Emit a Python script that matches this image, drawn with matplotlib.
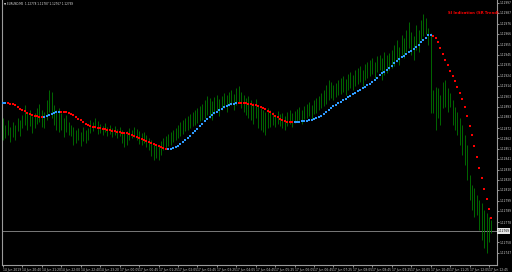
import numpy as np
import matplotlib
matplotlib.use("Agg")
import matplotlib.pyplot as plt

# ---- data (EURUSD, M5 bars) ----
high = [1.12882,1.12875,1.12880,1.12873,1.12878,1.12875,1.12882,1.12880,1.12885,1.12895,
        1.12888,1.12890,1.12884,1.12887,1.12892,1.12896,1.12890,1.12888,1.12900,1.12910,
        1.12908,1.12895,1.12890,1.12892,1.12887,1.12882,1.12885,1.12878,1.12875,1.12873,
        1.12870,1.12872,1.12868,1.12873,1.12870,1.12872,1.12880,1.12878,1.12882,1.12879,
        1.12876,1.12874,1.12877,1.12873,1.12875,1.12872,1.12874,1.12871,1.12873,1.12870,
        1.12867,1.12869,1.12872,1.12870,1.12873,1.12871,1.12869,1.12867,1.12868,1.12865,
        1.12862,1.12860,1.12857,1.12855,1.12854,1.12859,1.12862,1.12864,1.12866,1.12868,
        1.12870,1.12872,1.12875,1.12878,1.12880,1.12882,1.12884,1.12886,1.12888,1.12890,
        1.12892,1.12894,1.12896,1.12900,1.12904,1.12902,1.12899,1.12903,1.12905,1.12901,
        1.12904,1.12907,1.12905,1.12908,1.12910,1.12906,1.12912,1.12914,1.12908,1.12905,
        1.12902,1.12904,1.12900,1.12897,1.12901,1.12895,1.12892,1.12890,1.12888,1.12892,
        1.12890,1.12888,1.12885,1.12889,1.12886,1.12887,1.12884,1.12888,1.12890,1.12887,
        1.12889,1.12891,1.12893,1.12890,1.12894,1.12896,1.12898,1.12895,1.12900,1.12902,
        1.12904,1.12907,1.12910,1.12915,1.12920,1.12918,1.12915,1.12917,1.12920,1.12922,
        1.12924,1.12921,1.12926,1.12928,1.12925,1.12930,1.12932,1.12934,1.12930,1.12936,
        1.12938,1.12940,1.12942,1.12938,1.12944,1.12945,1.12942,1.12948,1.12945,1.12947,
        1.12950,1.12955,1.12960,1.12953,1.12965,1.12962,1.12970,1.12978,1.12968,1.12964,
        1.12975,1.12970,1.12980,1.12986,1.12982,1.12972,1.12967,1.12910,1.12913,1.12912,
        1.12905,1.12918,1.12920,1.12912,1.12907,1.12900,1.12893,1.12888,1.12882,1.12875,
        1.12865,1.12855,1.12825,1.12815,1.12812,1.12805,1.12800,1.12797,1.12790,1.12787,
        1.12783,1.12780]
low = [1.12860,1.12862,1.12865,1.12858,1.12863,1.12860,1.12869,1.12864,1.12872,1.12875,
       1.12870,1.12874,1.12867,1.12872,1.12876,1.12878,1.12873,1.12872,1.12880,1.12888,
       1.12882,1.12875,1.12870,1.12868,1.12870,1.12863,1.12868,1.12865,1.12864,1.12855,
       1.12857,1.12860,1.12854,1.12859,1.12857,1.12860,1.12867,1.12869,1.12872,1.12866,
       1.12867,1.12865,1.12868,1.12864,1.12866,1.12863,1.12865,1.12862,1.12864,1.12857,
       1.12853,1.12855,1.12860,1.12862,1.12863,1.12860,1.12856,1.12855,1.12857,1.12853,
       1.12850,1.12844,1.12840,1.12842,1.12840,1.12845,1.12850,1.12852,1.12854,1.12855,
       1.12858,1.12860,1.12862,1.12864,1.12866,1.12869,1.12870,1.12872,1.12874,1.12875,
       1.12877,1.12879,1.12880,1.12882,1.12885,1.12882,1.12880,1.12886,1.12888,1.12884,
       1.12890,1.12892,1.12888,1.12894,1.12895,1.12890,1.12895,1.12898,1.12892,1.12888,
       1.12885,1.12882,1.12880,1.12876,1.12882,1.12872,1.12870,1.12868,1.12865,1.12872,
       1.12873,1.12875,1.12873,1.12876,1.12874,1.12872,1.12870,1.12874,1.12876,1.12873,
       1.12877,1.12878,1.12880,1.12876,1.12881,1.12882,1.12884,1.12880,1.12886,1.12887,
       1.12890,1.12892,1.12894,1.12896,1.12900,1.12902,1.12900,1.12903,1.12905,1.12906,
       1.12908,1.12905,1.12910,1.12912,1.12910,1.12914,1.12916,1.12918,1.12914,1.12920,
       1.12922,1.12924,1.12926,1.12922,1.12928,1.12930,1.12920,1.12925,1.12927,1.12930,
       1.12932,1.12934,1.12938,1.12935,1.12945,1.12942,1.12948,1.12952,1.12945,1.12940,
       1.12950,1.12948,1.12960,1.12964,1.12966,1.12955,1.12887,1.12887,1.12870,1.12882,
       1.12875,1.12892,1.12893,1.12888,1.12893,1.12875,1.12870,1.12865,1.12855,1.12845,
       1.12835,1.12820,1.12800,1.12790,1.12783,1.12785,1.12770,1.12760,1.12752,1.12747,
       1.12758,1.12767]
trend_line = [1.12897,1.12897,1.12897,1.12896,1.12896,1.12895,1.12893,1.12891,1.12890,1.12889,
              1.12887,1.12886,1.12885,1.12884,1.12884,1.12883,1.12883,1.12883,1.12884,1.12885,
              1.12886,1.12887,1.12888,1.12888,1.12888,1.12888,1.12888,1.12887,1.12886,1.12885,
              1.12883,1.12881,1.12880,1.12878,1.12876,1.12875,1.12874,1.12873,1.12873,1.12872,
              1.12872,1.12871,1.12871,1.12870,1.12870,1.12869,1.12869,1.12868,1.12868,1.12867,
              1.12867,1.12867,1.12866,1.12865,1.12864,1.12863,1.12862,1.12861,1.12860,1.12859,
              1.12858,1.12857,1.12856,1.12855,1.12854,1.12853,1.12852,1.12851,1.12851,1.12851,
              1.12852,1.12853,1.12854,1.12856,1.12858,1.12860,1.12862,1.12864,1.12867,1.12869,
              1.12871,1.12874,1.12876,1.12879,1.12881,1.12883,1.12885,1.12887,1.12888,1.12890,
              1.12891,1.12893,1.12894,1.12895,1.12896,1.12896,1.12897,1.12897,1.12897,1.12897,
              1.12897,1.12896,1.12896,1.12895,1.12895,1.12894,1.12893,1.12892,1.12891,1.12889,
              1.12888,1.12886,1.12884,1.12883,1.12881,1.12880,1.12879,1.12878,1.12878,1.12878,
              1.12878,1.12878,1.12878,1.12879,1.12879,1.12879,1.12880,1.12880,1.12881,1.12882,
              1.12883,1.12884,1.12886,1.12888,1.12890,1.12892,1.12894,1.12895,1.12897,1.12898,
              1.12900,1.12901,1.12903,1.12904,1.12906,1.12907,1.12909,1.12910,1.12912,1.12913,
              1.12915,1.12916,1.12918,1.12920,1.12922,1.12925,1.12927,1.12928,1.12930,1.12932,
              1.12934,1.12937,1.12939,1.12941,1.12943,1.12944,1.12946,1.12948,1.12949,1.12951,
              1.12953,1.12955,1.12958,1.12960,1.12962,1.12965,1.12965,1.12964,1.12962,1.12958,
              1.12952,1.12946,1.12940,1.12935,1.12929,1.12924,1.12919,1.12913,1.12907,1.12901,
              1.12893,1.12884,1.12874,1.12865,1.12854,1.12843,1.12832,1.12822,1.12811,1.12801,
              1.12791,1.12782]
# bar index ranges where the trend is up (blue); elsewhere down (red)
up_segments = [(0, 1), (17, 23), (68, 96), (120, 176)]

current_price = 1.12769
price_labels = [1.12997, 1.12987, 1.12976, 1.12966, 1.12955, 1.12945, 1.12935, 1.12924,
                1.12914, 1.12903, 1.12893, 1.12883, 1.12872, 1.12862, 1.12851, 1.12841,
                1.12830, 1.12820, 1.12810, 1.12799, 1.12789, 1.12778, 1.12758, 1.12747]
time_labels = ["14 Jun 2019", "14 Jun 20:40", "14 Jun 21:20", "14 Jun 22:00", "14 Jun 22:40",
               "14 Jun 23:20", "17 Jun 00:05", "17 Jun 00:45", "17 Jun 01:25", "17 Jun 02:05",
               "17 Jun 02:45", "17 Jun 03:25", "17 Jun 04:05", "17 Jun 04:45", "17 Jun 05:25",
               "17 Jun 06:05", "17 Jun 06:45", "17 Jun 07:25", "17 Jun 08:05", "17 Jun 08:45",
               "17 Jun 09:25", "17 Jun 10:05", "17 Jun 10:45", "17 Jun 11:25", "17 Jun 12:05",
               "17 Jun 12:45"]
time_label_bars = list(range(0, 202, 8))
header = "EURUSD,M5  1.12778 1.12787 1.12767 1.12769"
indicator_name = "SI Indication (SR Trend)"

# ---- figure ----
W, H = 512, 272
fig = plt.figure(figsize=(W / 100, H / 100), dpi=100, facecolor="black")
ax = fig.add_axes([2 / W, (H - 265) / H, 495 / W, 265 / H], facecolor="black")

n = len(high)
x = np.arange(n)
ax.vlines(x, low, high, color="#007800", linewidth=0.6, zorder=2)

tl = np.array(trend_line)
is_up = np.zeros(n, dtype=bool)
for a, b in up_segments:
    is_up[a:b + 1] = True
ax.plot(x[is_up], tl[is_up], linestyle="none", marker="s", ms=1.6, mew=0,
        color="#2e9bff", zorder=3)
ax.plot(x[~is_up], tl[~is_up], linestyle="none", marker="s", ms=1.6, mew=0,
        color="#ff0000", zorder=3)

ax.axhline(current_price, color="#8c8c8c", linewidth=0.6, zorder=1)

ax.set_xlim(-0.41, 203.3)
ax.set_ylim(1.12735, 1.13000)

for s in ["left", "bottom", "right"]:
    ax.spines[s].set_color("#9a9a9a")
    ax.spines[s].set_linewidth(0.8)
ax.spines["top"].set_visible(False)

ax.yaxis.tick_right()
ax.set_yticks(price_labels)
ax.set_yticklabels([f"{v:.5f}" for v in price_labels])
ax.tick_params(axis="y", colors="#d0d0d0", labelsize=2.1, length=1.2, width=0.5, pad=0.6)
ax.set_xticks(time_label_bars)
ax.set_xticklabels(time_labels, ha="left")
ax.tick_params(axis="x", colors="#d0d0d0", labelsize=2.2, length=1.5, width=0.5, pad=1.0)

ax.text(1.0015, current_price, f"{current_price:.5f}", transform=ax.get_yaxis_transform(),
        fontsize=2.1, color="black", va="center", ha="left",
        bbox=dict(boxstyle="square,pad=0.2", facecolor="#e8e8e8", edgecolor="none"))

fig.text(4 / W, 1 - 4 / H, "\u25bc " + header, fontsize=2.0, color="#e0e0e0",
         va="center", ha="left")
fig.text(448 / W, 1 - 13 / H, indicator_name, fontsize=2.7, color="#ff0000",
         va="center", ha="left", fontweight="bold")

fig.savefig("out.png", dpi=100, facecolor="black")
